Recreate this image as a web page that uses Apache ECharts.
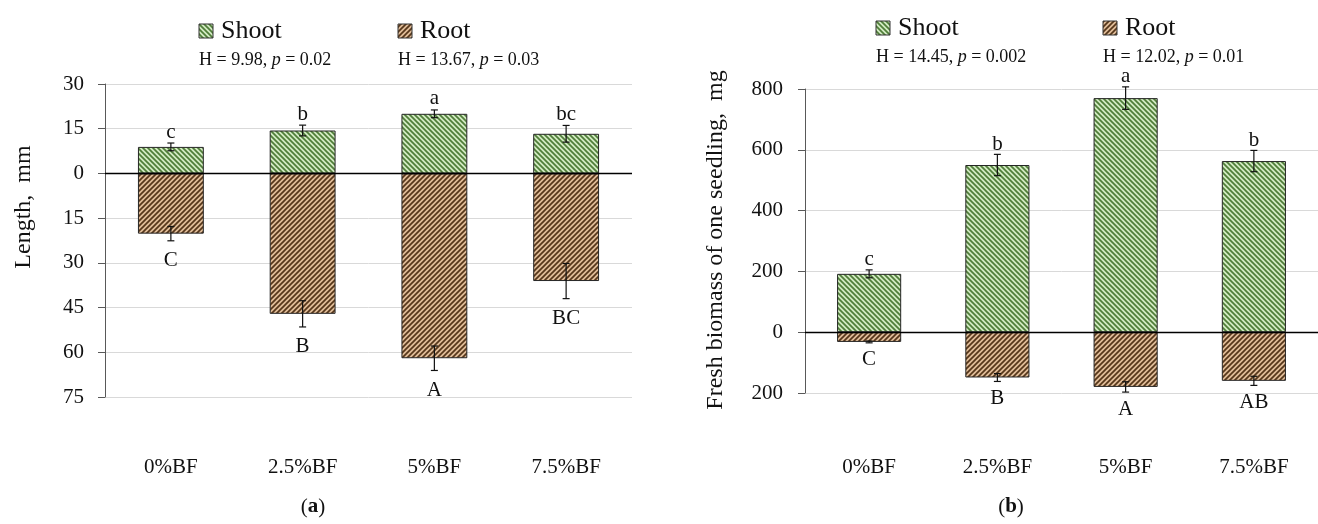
<!DOCTYPE html>
<html><head><meta charset="utf-8">
<script src="https://cdn.jsdelivr.net/npm/echarts/dist/echarts.min.js"></script>
<style>html,body{margin:0;padding:0;background:#fff}#c{width:1318px;height:524px}</style>
</head><body><div id="c"></div>
<script>
// ---- data ----
const categories = ['0%BF', '2.5%BF', '5%BF', '7.5%BF'];
// (a) length, mm
const lengthShoot = [8.9, 14.4, 20.0, 13.3];
const lengthShootErr = [1.3, 1.8, 1.3, 2.8];
const lengthRoot = [-20.2, -47.1, -62.0, -36.1];
const lengthRootErr = [2.4, 4.4, 4.1, 5.9];
const lengthShootLetters = ['c', 'b', 'a', 'bc'];
const lengthRootLetters = ['C', 'B', 'A', 'BC'];
const lengthStats = ['H = 9.98, ', 'p', ' = 0.02', 'H = 13.67, ', 'p', ' = 0.03'];
// (b) fresh biomass, mg
const massShoot = [192, 550, 770, 563];
const massShootErr = [13, 35, 37, 35];
const massRoot = [-32, -149, -180, -160];
const massRootErr = [3, 13, 17, 15];
const massShootLetters = ['c', 'b', 'a', 'b'];
const massRootLetters = ['C', 'B', 'A', 'AB'];
const massStats = ['H = 14.45, ', 'p', ' = 0.002', 'H = 12.02, ', 'p', ' = 0.01'];
// axis ticks
const lengthAxis = [-75, 30, 15];   // min, max, interval
const massAxis = [-200, 800, 200];

// ---- styles ----
const FONT = '"Liberation Serif", "Times New Roman", serif';
function stripes(bg, fg, dir) {
  const s = 5, c = document.createElement('canvas');
  c.width = s; c.height = s;
  const g = c.getContext('2d');
  g.fillStyle = bg; g.fillRect(0, 0, s, s);
  g.strokeStyle = fg; g.lineWidth = 1.7; g.beginPath();
  for (let k = -1; k <= 1; k++) {
    if (dir === 'down') { g.moveTo(-s, -s + k * s); g.lineTo(2 * s, 2 * s + k * s); }
    else { g.moveTo(-s, 2 * s + k * s); g.lineTo(2 * s, -s + k * s); }
  }
  g.stroke();
  return c;
}
const shootFill = { image: stripes('#d2eac2', '#4f7d38', 'down'), repeat: 'repeat' };
const rootFill = { image: stripes('#dfbb98', '#55361a', 'up'), repeat: 'repeat' };

function barSeries(name, idx, data, fill, zero) {
  const s = {
    type: 'bar', name, xAxisIndex: idx, yAxisIndex: idx, stack: 'g' + idx, data,
    barWidth: '50%', silent: true,
    itemStyle: { color: fill, borderColor: '#262626', borderWidth: 1 }
  };
  if (zero) s.markLine = {
    silent: true, symbol: 'none', label: { show: false }, animation: false,
    lineStyle: { color: '#000', width: 1.3, type: 'solid' }, data: [{ yAxis: 0 }]
  };
  return s;
}
function errSeries(idx, vals, errs, letters, up, gapUp, gapDown) {
  return {
    type: 'custom', xAxisIndex: idx, yAxisIndex: idx, z: 10, silent: true,
    data: vals.map((v, i) => [i, v, errs[i]]),
    renderItem: (params, api) => {
      const i = api.value(0), v = api.value(1), e = api.value(2);
      const p1 = api.coord([i, v + e]), p2 = api.coord([i, v - e]);
      const x = p1[0], cw = 3.5;
      const st = { stroke: '#111', lineWidth: 1.2 };
      const ty = up ? p1[1] - gapUp : p2[1] + gapDown;
      return {
        type: 'group', children: [
          { type: 'line', shape: { x1: x, y1: p1[1], x2: x, y2: p2[1] }, style: st },
          { type: 'line', shape: { x1: x - cw, y1: p1[1], x2: x + cw, y2: p1[1] }, style: st },
          { type: 'line', shape: { x1: x - cw, y1: p2[1], x2: x + cw, y2: p2[1] }, style: st },
          { type: 'text', x: x, y: ty, style: { text: letters[params.dataIndex], fill: '#111', font: '21px ' + FONT, align: 'center', verticalAlign: 'middle' } }
        ]
      };
    }
  };
}
function xAxis(idx, margin) {
  return {
    type: 'category', gridIndex: idx, data: categories,
    axisLine: { show: false }, axisTick: { show: false },
    axisLabel: { margin, fontSize: 21, fontFamily: FONT, color: '#111' }
  };
}
function yAxis(idx, ax, margin) {
  return {
    type: 'value', gridIndex: idx, min: ax[0], max: ax[1], interval: ax[2],
    axisLine: { show: true, lineStyle: { color: '#595959', width: 1 } },
    axisTick: { show: true, inside: false, length: 7, lineStyle: { color: '#595959' } },
    splitLine: { show: true, lineStyle: { color: '#d9d9d9', width: 1 } },
    axisLabel: { margin, fontSize: 21, fontFamily: FONT, color: '#111', formatter: v => String(Math.abs(v)) }
  };
}
function legendGroup(x, y, stats, rootX) {
  const rich = { i: { fontStyle: 'italic', fontSize: 18, fontFamily: FONT, fill: '#111' } };
  const items = [];
  [[x, 'Shoot', shootFill, stats.slice(0, 3)], [rootX, 'Root', rootFill, stats.slice(3, 6)]].forEach(([lx, name, fill, st]) => {
    items.push({ type: 'rect', shape: { x: lx, y: y - 7, width: 14, height: 14 }, style: { fill, stroke: '#333', lineWidth: 1 } });
    items.push({ type: 'text', x: lx + 22, y: y, style: { text: name, font: '26px ' + FONT, fill: '#111', verticalAlign: 'middle' } });
    items.push({ type: 'text', x: lx, y: y + 29, style: { text: st[0] + '{i|' + st[1] + '}' + st[2], rich, font: '18px ' + FONT, fill: '#111', verticalAlign: 'middle' } });
  });
  return items;
}

const chart = echarts.init(document.getElementById('c'), null, { renderer: 'canvas' });
chart.setOption({
  animation: false,
  backgroundColor: '#fff',
  grid: [
    { left: 105, top: 84, width: 527, height: 313 },
    { left: 805, top: 89, width: 523, height: 304 }
  ],
  xAxis: [xAxis(0, 60), xAxis(1, 64)],
  yAxis: [yAxis(0, lengthAxis, 21), yAxis(1, massAxis, 22)],
  series: [
    barSeries('Shoot', 0, lengthShoot, shootFill, true),
    barSeries('Root', 0, lengthRoot, rootFill, false),
    errSeries(0, lengthShoot, lengthShootErr, lengthShootLetters, true, 11, 0),
    errSeries(0, lengthRoot, lengthRootErr, lengthRootLetters, false, 0, 20),
    barSeries('Shoot', 1, massShoot, shootFill, true),
    barSeries('Root', 1, massRoot, rootFill, false),
    errSeries(1, massShoot, massShootErr, massShootLetters, true, 10, 0),
    errSeries(1, massRoot, massRootErr, massRootLetters, false, 0, 17)
  ],
  graphic: [
    ...legendGroup(199, 31, lengthStats, 398),
    ...legendGroup(876, 28, massStats, 1103),
    { type: 'text', x: 24, y: 207, rotation: Math.PI / 2, style: { text: 'Length,  mm', font: '24px ' + FONT, fill: '#111', align: 'center', verticalAlign: 'middle' } },
    { type: 'text', x: 716, y: 240, rotation: Math.PI / 2, style: { text: 'Fresh biomass of one seedling,  mg', font: '24px ' + FONT, fill: '#111', align: 'center', verticalAlign: 'middle' } },
    { type: 'text', x: 313, y: 507, style: { text: '({b|a})', font: '21px ' + FONT, fill: '#111', align: 'center', verticalAlign: 'middle', rich: { b: { fontWeight: 'bold', fontSize: 21, fontFamily: FONT } } } },
    { type: 'text', x: 1011, y: 507, style: { text: '({b|b})', font: '21px ' + FONT, fill: '#111', align: 'center', verticalAlign: 'middle', rich: { b: { fontWeight: 'bold', fontSize: 21, fontFamily: FONT } } } }
  ]
});
</script></body></html>
